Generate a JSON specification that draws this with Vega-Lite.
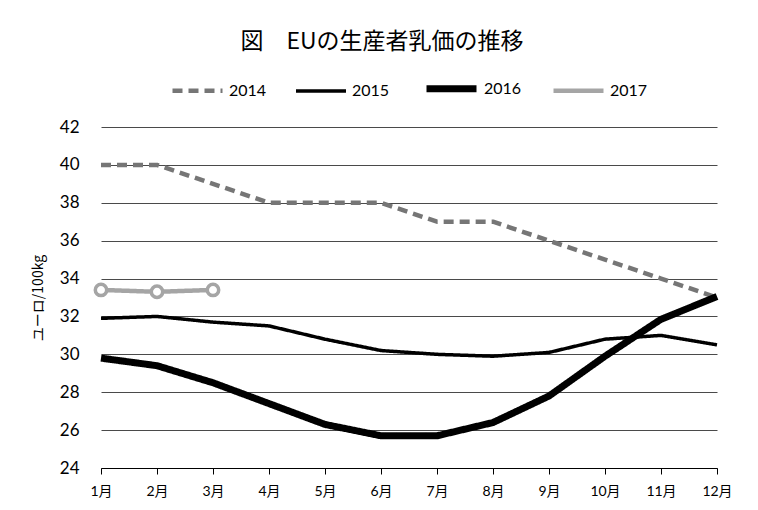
{
  "$schema": "https://vega.github.io/schema/vega-lite/v6.json",
  "width": 616,
  "height": 341,
  "autosize": {"type": "none"},
  "padding": {"left": 101, "top": 127, "right": 41, "bottom": 42},
  "background": "white",
  "title": {
    "text": "図　EUの生産者乳価の推移",
    "font": "Noto Sans CJK JP",
    "fontSize": 23,
    "fontWeight": "normal",
    "color": "#000000",
    "anchor": "middle",
    "dx": -27,
    "offset": 6
  },
  "data": {
    "values": [
      {"month": "1月", "year": "2014", "price": 40},
      {"month": "2月", "year": "2014", "price": 40},
      {"month": "3月", "year": "2014", "price": 39},
      {"month": "4月", "year": "2014", "price": 38},
      {"month": "5月", "year": "2014", "price": 38},
      {"month": "6月", "year": "2014", "price": 38},
      {"month": "7月", "year": "2014", "price": 37},
      {"month": "8月", "year": "2014", "price": 37},
      {"month": "9月", "year": "2014", "price": 36},
      {"month": "10月", "year": "2014", "price": 35},
      {"month": "11月", "year": "2014", "price": 34},
      {"month": "12月", "year": "2014", "price": 33},
      {"month": "1月", "year": "2015", "price": 31.9},
      {"month": "2月", "year": "2015", "price": 32.0},
      {"month": "3月", "year": "2015", "price": 31.7},
      {"month": "4月", "year": "2015", "price": 31.5},
      {"month": "5月", "year": "2015", "price": 30.8},
      {"month": "6月", "year": "2015", "price": 30.2},
      {"month": "7月", "year": "2015", "price": 30.0},
      {"month": "8月", "year": "2015", "price": 29.9},
      {"month": "9月", "year": "2015", "price": 30.1},
      {"month": "10月", "year": "2015", "price": 30.8},
      {"month": "11月", "year": "2015", "price": 31.0},
      {"month": "12月", "year": "2015", "price": 30.5},
      {"month": "1月", "year": "2016", "price": 29.8},
      {"month": "2月", "year": "2016", "price": 29.4},
      {"month": "3月", "year": "2016", "price": 28.5},
      {"month": "4月", "year": "2016", "price": 27.4},
      {"month": "5月", "year": "2016", "price": 26.3},
      {"month": "6月", "year": "2016", "price": 25.7},
      {"month": "7月", "year": "2016", "price": 25.7},
      {"month": "8月", "year": "2016", "price": 26.4},
      {"month": "9月", "year": "2016", "price": 27.8},
      {"month": "10月", "year": "2016", "price": 29.9},
      {"month": "11月", "year": "2016", "price": 31.85},
      {"month": "12月", "year": "2016", "price": 33.05},
      {"month": "1月", "year": "2017", "price": 33.4},
      {"month": "2月", "year": "2017", "price": 33.3},
      {"month": "3月", "year": "2017", "price": 33.4}
    ]
  },
  "encoding": {
    "x": {
      "field": "month",
      "type": "ordinal",
      "sort": ["1月","2月","3月","4月","5月","6月","7月","8月","9月","10月","11月","12月"],
      "scale": {"type": "point", "padding": 0},
      "axis": {
        "title": null,
        "labelAngle": 0,
        "labelFont": "Lato, Noto Sans CJK JP",
        "labelFontSize": 14,
        "labelColor": "#000000",
        "labelPadding": 10,
        "domainColor": "#000000",
        "domainWidth": 1,
        "tickColor": "#000000",
        "tickSize": 6,
        "grid": false
      }
    },
    "y": {
      "field": "price",
      "type": "quantitative",
      "scale": {"domain": [24, 42], "nice": false, "zero": false},
      "axis": {
        "values": [24, 26, 28, 30, 32, 34, 36, 38, 40, 42],
        "title": "ユーロ/100kg",
        "titleFont": "Noto Sans CJK JP",
        "titleFontSize": 14,
        "titleFontWeight": "normal",
        "titleColor": "#000000",
        "titlePadding": 14,
        "labelFont": "Lato",
        "labelFontSize": 17,
        "labelColor": "#000000",
        "labelPadding": 22,
        "domain": false,
        "ticks": false,
        "grid": true,
        "gridColor": "#4a4a4a",
        "gridWidth": 1
      }
    }
  },
  "layer": [
    {
      "mark": {"type": "line", "interpolate": "linear", "strokeCap": "butt", "strokeJoin": "round"},
      "encoding": {
        "color": {
          "field": "year",
          "type": "ordinal",
          "scale": {"domain": ["2014", "2015", "2016", "2017"], "range": ["#767676", "#000000", "#000000", "#a5a5a5"]},
          "legend": {
            "title": null,
            "orient": "top",
            "direction": "horizontal",
            "symbolType": "stroke",
            "symbolSize": 2500,
            "labelFont": "Lato",
            "labelFontSize": 16,
            "labelColor": "#000000",
            "labelOffset": 4,
            "columnPadding": 22,
            "offset": 24
          }
        },
        "strokeDash": {
          "field": "year",
          "type": "ordinal",
          "scale": {"domain": ["2014", "2015", "2016", "2017"], "range": [[10, 6], [1, 0], [1, 0], [1, 0]]},
          "legend": {
            "title": null,
            "orient": "top",
            "direction": "horizontal",
            "symbolType": "stroke",
            "symbolSize": 2500,
            "labelFont": "Lato",
            "labelFontSize": 16,
            "labelColor": "#000000",
            "labelOffset": 4,
            "columnPadding": 22,
            "offset": 24
          }
        },
        "strokeWidth": {
          "field": "year",
          "type": "ordinal",
          "scale": {"type": "ordinal", "domain": ["2014", "2015", "2016", "2017"], "range": [4.5, 3.5, 7, 4.5]},
          "legend": {
            "title": null,
            "orient": "top",
            "direction": "horizontal",
            "symbolType": "stroke",
            "symbolSize": 2500,
            "labelFont": "Lato",
            "labelFontSize": 16,
            "labelColor": "#000000",
            "labelOffset": 4,
            "columnPadding": 22,
            "offset": 24
          }
        }
      }
    },
    {
      "transform": [{"filter": "datum.year == '2017'"}],
      "mark": {"type": "point", "shape": "circle", "filled": true, "fill": "white", "stroke": "#a5a5a5", "strokeWidth": 3.5, "size": 130, "opacity": 1}
    }
  ],
  "config": {
    "view": {"stroke": null},
    "legend": {"layout": {"top": {"anchor": "middle"}}}
  }
}
